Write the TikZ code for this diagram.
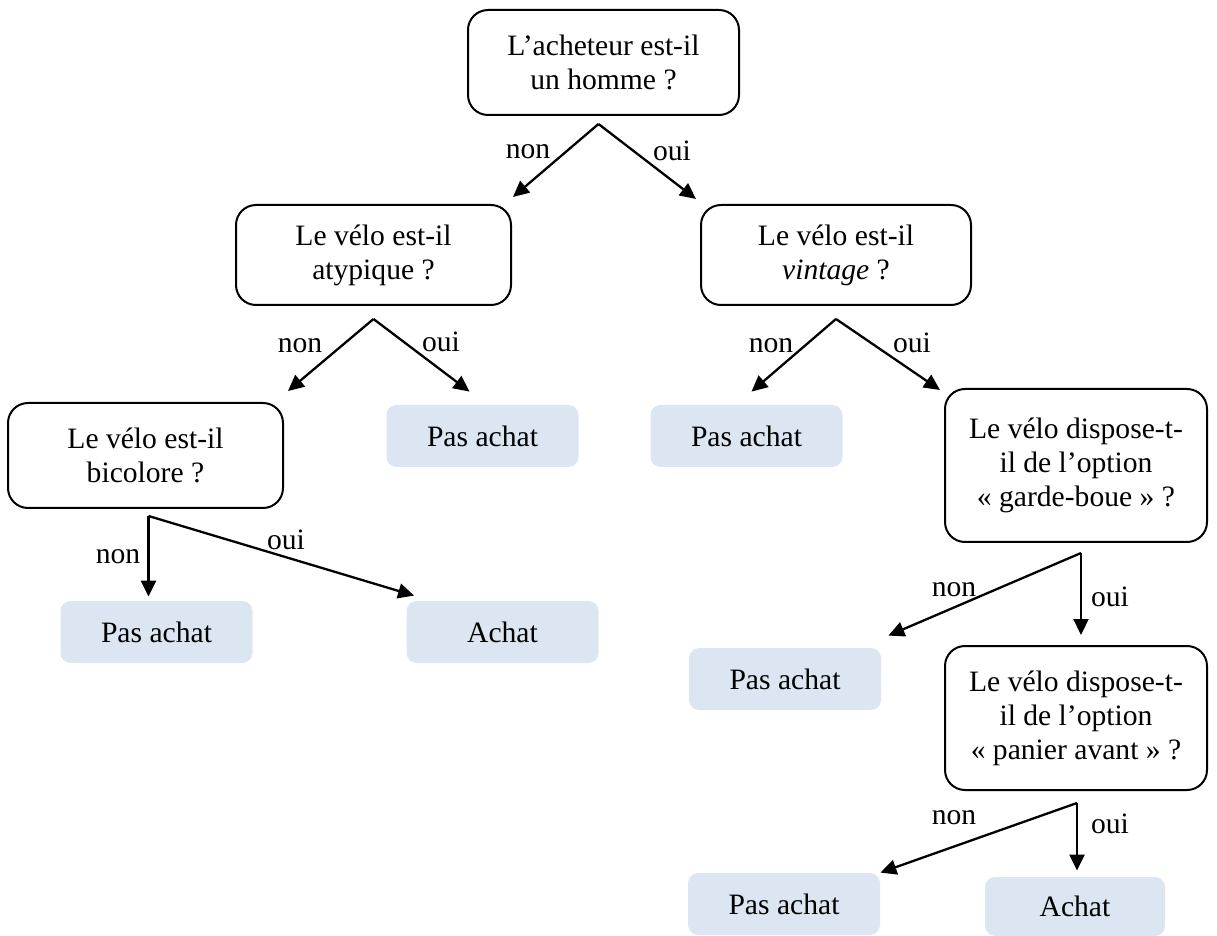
\documentclass[tikz,border=0pt]{standalone}
\usepackage{fontspec}
\setmainfont{Liberation Serif}
\usetikzlibrary{arrows.meta}
\definecolor{leafblue}{RGB}{220,230,242}
\tikzset{
  qbox/.style = {draw, rounded corners = 10pt, line width = 1pt, align = center,
                 inner sep = 0pt},
  leaf/.style = {fill = leafblue, rounded corners = 5pt, align = center,
                 inner sep = 0pt, minimum width = 96pt, minimum height = 31pt},
  arr/.style = {-{Triangle[length = 8pt, width = 7.5pt]}, line width = 1.15pt},
  lbl/.style = {inner sep = 0pt}
}
\begin{document}
\begin{tikzpicture}[x = 0.5pt, y = -0.5pt,
    every node/.style = {font = \fontsize{14.8}{17}\selectfont}]
  \useasboundingbox (0,0) rectangle (1217,936);
  % questions
  \node [qbox, minimum width = 135.5pt, minimum height = 52.5pt]
    (root) at (603.5,62.5) {L'acheteur est-il\\un homme ?};
  \node [qbox, minimum width = 137.5pt, minimum height = 50pt]
    (atyp) at (373.5,255) {Le vélo est-il\\atypique ?};
  \node [qbox, minimum width = 135pt, minimum height = 50pt]
    (vint) at (836,255) {Le vélo est-il\\\textit{vintage} ?};
  \node [qbox, minimum width = 137.5pt, minimum height = 52.5pt]
    (bico) at (145.5,455.5) {Le vélo est-il\\bicolore ?};
  \node [qbox, minimum width = 131pt, minimum height = 76.5pt]
    (garde) at (1076,465.5) {Le vélo dispose-t-\\il de l'option\\« garde-boue » ?};
  \node [qbox, minimum width = 131pt, minimum height = 72pt]
    (panier) at (1076,718) {Le vélo dispose-t-\\il de l'option\\« panier avant » ?};
  % answers
  \node [leaf] (pasA) at (482.5,436) {Pas achat};
  \node [leaf] (pasB) at (746.5,436) {Pas achat};
  \node [leaf] (pasC) at (156.5,632) {Pas achat};
  \node [leaf] (achA) at (502.5,632) {Achat};
  \node [leaf] (pasD) at (785,679) {Pas achat};
  \node [leaf] (pasE) at (784,904) {Pas achat};
  \node [leaf, minimum width = 90pt, minimum height = 29.5pt]
    (achB) at (1075,906.5) {Achat};
  % split points
  \coordinate (sRoot) at ([shift = {(-5,8)}]root.south);
  \coordinate (sAtyp) at ([shift = {(0,13)}]atyp.south);
  \coordinate (sVint) at ([shift = {(0,13)}]vint.south);
  \coordinate (sBico) at ([shift = {(3,7)}]bico.south);
  \coordinate (sGarde) at ([shift = {(5,10)}]garde.south);
  \coordinate (sPanier) at ([shift = {(1,12)}]panier.south);
  % connectors
  \draw [arr] (sRoot) -- ([shift = {(1,-7)}]atyp.north east);
  \draw [arr] (sRoot) -- ([shift = {(-4,-5)}]vint.north west);
  \draw [arr] (sAtyp) -- ([shift = {(4,-11)}]bico.north east);
  \draw [arr] (sAtyp) -- ([shift = {(-13,-13)}]pasA.north);
  \draw [arr] (sVint) -- ([shift = {(5,-13)}]pasB.north);
  \draw [arr] (sVint) -- ([shift = {(-4,2)}]garde.north west);
  \draw [arr] (sBico) -- ([shift = {(-8,-4)}]pasC.north);
  \draw [arr] (sBico) -- ([shift = {(8,-5)}]achA.north west);
  \draw [arr] (sGarde) -- ([shift = {(7,-12)}]pasD.north east);
  \draw [arr] (sGarde) -- ([shift = {(5,-10)}]panier.north);
  \draw [arr] (sPanier) -- ([shift = {(0,0)}]pasE.north east);
  \draw [arr] (sPanier) -- ([shift = {(2,-6)}]achB.north);
  % labels
  \node [lbl] (nRoot) at (528,152) {non};
  \node [lbl] (oRoot) at (672,151) {oui};
  \node [lbl] (nAtyp) at (300,346) {non};
  \node [lbl] (oAtyp) at (441,342) {oui};
  \node [lbl] (nVint) at (771,346) {non};
  \node [lbl] (oVint) at (912,343) {oui};
  \node [lbl] (nBico) at (118,557) {non};
  \node [lbl] (oBico) at (286,540) {oui};
  \node [lbl] (nGarde) at (954,590) {non};
  \node [lbl] (oGarde) at (1110,597) {oui};
  \node [lbl] (nPanier) at (954,818) {non};
  \node [lbl] (oPanier) at (1110,824) {oui};
\end{tikzpicture}
\end{document}
